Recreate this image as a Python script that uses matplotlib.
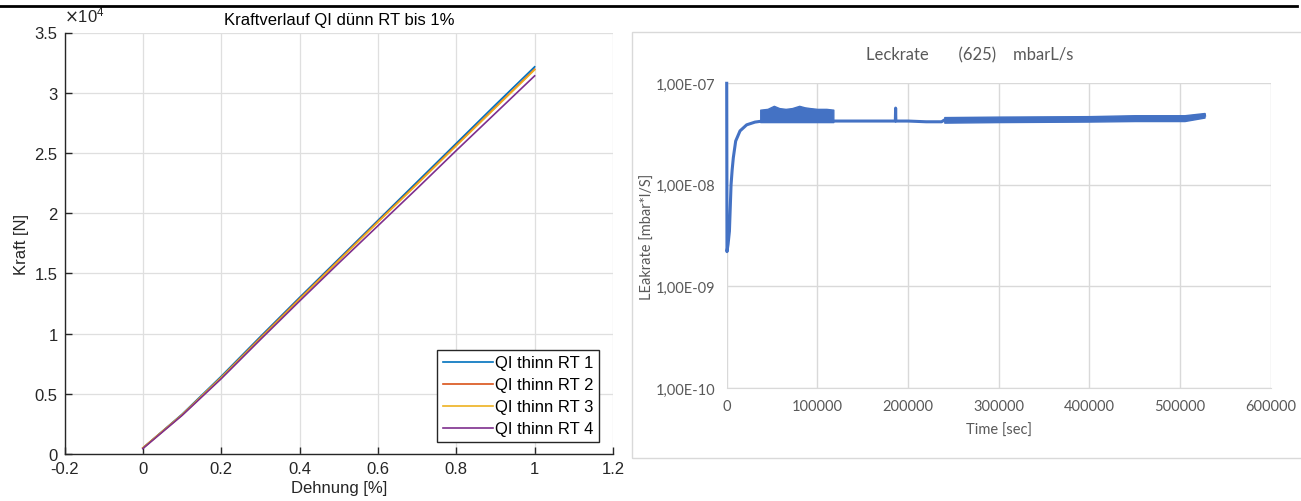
import matplotlib

matplotlib.use("Agg")
import matplotlib.pyplot as plt
from matplotlib.lines import Line2D
from matplotlib.patches import Rectangle
from matplotlib.ticker import FixedLocator, FuncFormatter

# --- left panel: force vs strain ---
strain = [0.0, 0.1, 0.2, 0.3, 0.4, 0.5, 0.6, 0.7, 0.8, 0.9, 1.0]
force_rt1 = [500, 3300, 6450, 9750, 13000, 16200, 19400, 22600, 25800, 29000, 32150]
force_rt2 = [500, 3250, 6350, 9650, 12900, 16100, 19300, 22450, 25650, 28800, 31950]
force_rt3 = [500, 3250, 6350, 9600, 12850, 16050, 19250, 22400, 25600, 28750, 31900]
force_rt4 = [450, 3200, 6250, 9500, 12700, 15850, 18950, 22050, 25200, 28300, 31400]
series_labels = ["QI thinn RT 1", "QI thinn RT 2", "QI thinn RT 3", "QI thinn RT 4"]

# --- right panel: leak rate over time ---
leak_t = [0, 300, 1500, 3000, 4800, 6000, 7300, 9900, 14700, 22000, 31200, 37000,
          117600, 150000, 186000, 186300, 186600, 200000, 220000, 237000, 240000,
          300000, 400000, 505000, 527000]
leak_v = [1.0e-7, 2.2e-9, 2.6e-9, 3.5e-9, 1.0e-8, 1.4e-8, 1.85e-8, 2.7e-8, 3.4e-8,
          3.9e-8, 4.15e-8, 4.22e-8, 4.25e-8, 4.25e-8, 4.25e-8, 5.7e-8, 4.25e-8,
          4.25e-8, 4.18e-8, 4.18e-8, 4.35e-8, 4.4e-8, 4.45e-8, 4.5e-8, 4.85e-8]

# noisy stretches drawn as envelopes
band1_t = [37000, 45000, 52000, 58000, 65000, 72000, 80000, 86000, 92000, 100000, 110000, 117600]
band1_lo = [4.15e-8] * 12
band1_hi = [5.5e-8, 5.6e-8, 6.0e-8, 5.7e-8, 5.6e-8, 5.7e-8, 6.0e-8, 5.8e-8, 5.7e-8, 5.6e-8, 5.6e-8, 5.5e-8]
band2_t = [240000, 300000, 400000, 450000, 505000, 527000]
band2_lo = [4.1e-8, 4.15e-8, 4.2e-8, 4.25e-8, 4.25e-8, 4.6e-8]
band2_hi = [4.65e-8, 4.7e-8, 4.75e-8, 4.85e-8, 4.85e-8, 5.1e-8]

W, H = 1301, 502
fig = plt.figure(figsize=(W / 100, H / 100), dpi=100)


def box(x0, y0, x1, y1):
    # pixel box (top-left origin) -> figure fraction rect
    return [x0 / W, 1 - y1 / H, (x1 - x0) / W, (y1 - y0) / H]


# top rule and right-panel frame
fig.add_artist(Line2D([0, 1297 / W], [1 - 6.5 / H] * 2, color="black", lw=2.0))
fig.add_artist(Rectangle((632 / W, 1 - 459 / H), (1312 - 632) / W, (459 - 32.5) / H,
                         fill=False, edgecolor="#D9D9D9", lw=1.0))

# ---------------- left: MATLAB style ----------------
dark = "#262626"
lf = ["Liberation Sans", "DejaVu Sans"]
ax = fig.add_axes(box(64.5, 33.5, 613, 455))
colors = ["#0072BD", "#D95319", "#EDB120", "#7E2F8E"]
for ys, c, lab in zip([force_rt1, force_rt2, force_rt3, force_rt4], colors, series_labels):
    ax.plot(strain, ys, color=c, lw=1.2, label=lab)
ax.set_xlim(-0.2, 1.2)
ax.set_ylim(0, 35000)
ax.xaxis.set_major_locator(FixedLocator([-0.2, 0, 0.2, 0.4, 0.6, 0.8, 1.0, 1.2]))
ax.yaxis.set_major_locator(FixedLocator([0, 5000, 10000, 15000, 20000, 25000, 30000, 35000]))
ax.xaxis.set_major_formatter(FuncFormatter(lambda v, p: f"{round(v, 1):g}"))
ax.yaxis.set_major_formatter(FuncFormatter(lambda v, p: f"{v / 1e4:g}"))
ax.grid(True, color="#DFDFDF", lw=0.9)
ax.set_axisbelow(True)
for s in ["top", "right"]:
    ax.spines[s].set_visible(False)
for s in ["left", "bottom"]:
    ax.spines[s].set_color(dark)
    ax.spines[s].set_linewidth(1.0)
ax.tick_params(direction="in", length=5, width=1.0, color=dark, labelcolor=dark,
               labelsize=12, pad=5)
for t in ax.get_xticklabels() + ax.get_yticklabels():
    t.set_family(lf)
ax.set_title("Kraftverlauf QI dünn RT bis 1%", fontsize=12, family=lf, color="black", pad=6)
ax.set_xlabel("Dehnung [%]", fontsize=12, family=lf, color=dark, labelpad=3)
ax.set_ylabel("Kraft [N]", fontsize=12, family=lf, color=dark, labelpad=4)
ax.text(0.0, 1.02, r"$\times\mathregular{10^{4}}$", transform=ax.transAxes, ha="left",
        va="bottom", fontsize=12, color=dark, family=lf)
leg = ax.legend(loc="lower right", bbox_to_anchor=(0.9745, 0.028), fontsize=12,
                frameon=True, fancybox=False, framealpha=1, edgecolor=dark,
                handlelength=3.0, handletextpad=0.1, labelspacing=0.42, borderpad=0.35,
                borderaxespad=0, prop={"family": lf, "size": 12})
leg.get_frame().set_linewidth(1.0)

# ---------------- right: Excel style ----------------
gray = "#595959"
rf = ["Lato", "DejaVu Sans"]
blue = "#4472C4"
bx = fig.add_axes(box(726.7, 84.3, 1270.7, 389))
bx.fill_between(band1_t, band1_lo, band1_hi, color=blue, lw=1.0)
bx.fill_between(band2_t, band2_lo, band2_hi, color=blue, lw=1.0)
bx.plot(leak_t, leak_v, color=blue, lw=2.2, solid_joinstyle="round", clip_on=False)
bx.set_yscale("log")
bx.set_xlim(0, 600000)
bx.set_ylim(1e-10, 1e-7)
bx.xaxis.set_major_locator(FixedLocator(range(0, 600001, 100000)))
bx.yaxis.set_major_locator(FixedLocator([1e-10, 1e-9, 1e-8, 1e-7]))
bx.yaxis.set_minor_locator(FixedLocator([]))
bx.xaxis.set_major_formatter(FuncFormatter(lambda v, p: f"{int(v)}"))
bx.yaxis.set_major_formatter(FuncFormatter(lambda v, p: f"{v:.2E}".replace(".", ",")))
bx.grid(True, color="#D9D9D9", lw=1.0)
bx.set_axisbelow(True)
for s in bx.spines.values():
    s.set_visible(False)
bx.spines["bottom"].set_visible(True)
bx.spines["bottom"].set_color("#D9D9D9")
bx.tick_params(length=0, labelcolor=gray, labelsize=10.5, pad=8)
for t in bx.get_xticklabels() + bx.get_yticklabels():
    t.set_family(rf)
bx.set_xlabel("Time [sec]", fontsize=10.5, family=rf, color=gray, labelpad=7)
bx.set_ylabel("LEakrate [mbar*l/S]", fontsize=10.5, family=rf, color=gray, labelpad=0.5)
fig.text(970 / W, 1 - 55 / H, "Leckrate       (625)    mbarL/s", ha="center", va="center",
         fontsize=12, family=rf, color=gray)

fig.savefig("out.png", dpi=100)
